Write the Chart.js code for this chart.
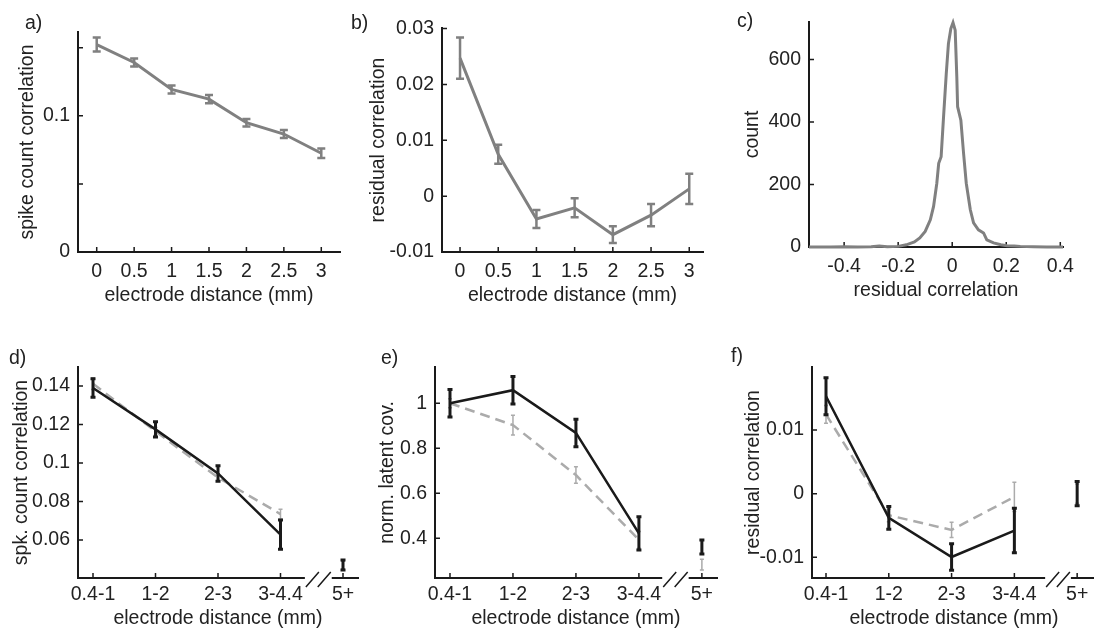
<!DOCTYPE html>
<html>
<head>
<meta charset="utf-8">
<script src="https://cdn.jsdelivr.net/npm/chart.js@4.4.1/dist/chart.umd.min.js"></script>
<style>
  html, body { margin: 0; padding: 0; background: #fff; overflow: hidden; }
  #page { position: relative; width: 1094px; height: 630px; overflow: hidden; }
  canvas { position: absolute; }
  .tag { position: absolute; font: 19.5px "Liberation Sans", Arial, sans-serif; color: #222; line-height: 22px; }
</style>
</head>
<body>
<div id="page">
  <canvas id="pa"></canvas>
  <canvas id="pb"></canvas>
  <canvas id="pc"></canvas>
  <canvas id="pd"></canvas>
  <canvas id="pe"></canvas>
  <canvas id="pf"></canvas>
  <div class="tag" style="left:25px;top:11px">a)</div>
  <div class="tag" style="left:351px;top:11px">b)</div>
  <div class="tag" style="left:737px;top:9px">c)</div>
  <div class="tag" style="left:9px;top:346px">d)</div>
  <div class="tag" style="left:381px;top:346px">e)</div>
  <div class="tag" style="left:731px;top:344px">f)</div>
</div>
<script>
// ---- data ----
const distMM = [0, 0.5, 1, 1.5, 2, 2.5, 3];
const distLabels = ['0', '0.5', '1', '1.5', '2', '2.5', '3'];

// a) spike count correlation vs distance
const spikeCorr = [0.1523, 0.1391, 0.1193, 0.1122, 0.0949, 0.0866, 0.0725];
const spikeCorrErr = [0.0051, 0.003, 0.003, 0.003, 0.0028, 0.003, 0.0035];
const spikeYTicks = [0, 0.05, 0.1, 0.15];
const spikeYLabels = ['0', '', '0.1', ''];

// b) residual correlation vs distance
const residCorr = [0.0247, 0.0075, -0.0041, -0.0021, -0.0069, -0.0034, 0.0013];
const residCorrErr = [0.0037, 0.0017, 0.0016, 0.0017, 0.0015, 0.002, 0.0027];
const residYTicks = [-0.01, 0, 0.01, 0.02, 0.03];
const residYLabels = ['-0.01', '0', '0.01', '0.02', '0.03'];

// c) histogram of residual correlation
const histBins = [-0.53, -0.45, -0.4, -0.35, -0.3, -0.27, -0.24, -0.2, -0.17, -0.14, -0.12, -0.1, -0.081,
  -0.069, -0.057, -0.05, -0.041, -0.032, -0.022, -0.014, -0.005, 0.003, 0.011, 0.017, 0.02, 0.032,
  0.042, 0.052, 0.067, 0.079, 0.097, 0.116, 0.128, 0.153, 0.18, 0.203, 0.23, 0.252, 0.3, 0.35, 0.41];
const histCounts = [0, 0, 1, 0, 1, 3, 1, 2, 7, 16, 29, 50, 87,
  130, 204, 268, 289, 417, 555, 651, 699, 718, 694, 545, 449, 406,
  300, 204, 119, 77, 55, 45, 23, 13, 7, 4, 3, 2, 1, 0, 0];
const histXTicks = [-0.4, -0.2, 0, 0.2, 0.4];
const histXLabels = ['-0.4', '-0.2', '0', '0.2', '0.4'];
const histYTicks = [0, 200, 400, 600];
const histYLabels = ['0', '200', '400', '600'];

// d-f) binned distance categories (last one sits after the axis break)
const binCats = ['0.4-1', '1-2', '2-3', '3-4.4', '5+'];
const binPos = [0, 1, 2, 3, 4];

const spkBlack = [0.139, 0.1175, 0.0946, 0.0628, 0.047];
const spkBlackErr = [0.0048, 0.0039, 0.004, 0.0076, 0.0026];
const spkGray = [0.1412, 0.1165, 0.0925, 0.0735, 0.047];
const spkGrayErr = [0.003, 0.002, 0.002, 0.0025, 0.002];
const spkYTicks = [0.06, 0.08, 0.1, 0.12, 0.14];
const spkYLabels = ['0.06', '0.08', '0.1', '0.12', '0.14'];

const latBlack = [1.0, 1.058, 0.868, 0.422, 0.361];
const latBlackErr = [0.061, 0.061, 0.061, 0.074, 0.031];
const latGray = [1.0, 0.903, 0.681, 0.393, 0.283];
const latGrayErr = [0.02, 0.044, 0.037, 0.037, 0.024];
const latYTicks = [0.4, 0.6, 0.8, 1];
const latYLabels = ['0.4', '0.6', '0.8', '1'];

const resBlack = [0.0153, -0.0038, -0.00995, -0.0058, 0.0];
const resBlackErr = [0.0029, 0.0018, 0.0021, 0.0035, 0.0019];
const resGray = [0.01245, -0.0034, -0.0057, -0.0005, 0.0];
const resGrayErr = [0.0014, 0.001, 0.0012, 0.0023, 0.0015];
const resYTicks = [-0.01, 0, 0.01];
const resYLabels = ['-0.01', '0', '0.01'];

// ---- styling ----
const TXT = '#222';
const AXIS = '#1a1a1a';
const GRAY = '#808080';
const LIGHT = '#ababab';
const BLACK = '#1a1a1a';
const FS = 19.5;
const HALF_LH = FS * 1.2 / 2;

Chart.defaults.font.family = '"Liberation Sans", Arial, Helvetica, sans-serif';
Chart.defaults.font.size = FS;
Chart.defaults.color = TXT;

function pts(xs, ys) {
  return ys.map((y, i) => ({ x: xs[i], y: y }));
}

// error bars drawn right after their own dataset so stacking order is kept
const errorBars = {
  id: 'errorBars',
  afterDatasetDraw(chart, args) {
    const ds = chart.data.datasets[args.index];
    if (!ds.errors) return;
    const { ctx } = chart;
    const x = chart.scales.x, y = chart.scales.y;
    ctx.save();
    ctx.setLineDash([]);
    ctx.strokeStyle = ds.errColor;
    ctx.lineWidth = ds.errWidth;
    ctx.lineCap = 'butt';
    ds.data.forEach((p, j) => {
      const e = ds.errors[j];
      const px = x.getPixelForValue(p.x);
      const y0 = y.getPixelForValue(p.y - e);
      const y1 = y.getPixelForValue(p.y + e);
      ctx.beginPath();
      ctx.moveTo(px, y0); ctx.lineTo(px, y1);
      ctx.moveTo(px - ds.cap, y0); ctx.lineTo(px + ds.cap, y0);
      ctx.moveTo(px - ds.cap, y1); ctx.lineTo(px + ds.cap, y1);
      ctx.stroke();
    });
    ctx.restore();
  }
};

// matlab style ticks pointing into the plot
const inwardTicks = {
  id: 'inwardTicks',
  beforeDatasetsDraw(chart) {
    const { ctx, chartArea: a } = chart;
    const x = chart.scales.x, y = chart.scales.y;
    ctx.save();
    ctx.strokeStyle = AXIS;
    ctx.lineWidth = 1.5;
    ctx.beginPath();
    x.ticks.forEach(t => {
      const px = x.getPixelForValue(t.value);
      ctx.moveTo(px, a.bottom); ctx.lineTo(px, a.bottom - 5);
    });
    y.ticks.forEach(t => {
      const py = y.getPixelForValue(t.value);
      ctx.moveTo(a.left, py); ctx.lineTo(a.left + 5, py);
    });
    ctx.stroke();
    ctx.restore();
  }
};

// "//" break on the x axis
const axisBreak = {
  id: 'axisBreak',
  afterDraw(chart, args, opts) {
    if (opts.from === undefined) return;
    const { ctx, chartArea: a } = chart;
    const x = chart.scales.x;
    const x0 = x.getPixelForValue(opts.from);
    const x1 = x.getPixelForValue(opts.to);
    const yb = a.bottom;
    ctx.save();
    ctx.fillStyle = '#fff';
    ctx.fillRect(x0, yb - 3, x1 - x0, 6);
    ctx.strokeStyle = AXIS;
    ctx.lineWidth = 1.5;
    ctx.beginPath();
    ctx.moveTo(x0 + 1, yb + 9); ctx.lineTo(x0 + 14, yb - 6);
    ctx.moveTo(x1 - 14, yb + 9); ctx.lineTo(x1 - 1, yb - 6);
    ctx.stroke();
    ctx.restore();
  }
};

function makePanel(id, box, xc, yc, datasets, brk) {
  const L = box.yTitleX - 15, T = box.top - 26, R = box.right + 25, B = box.xTitleY + 15;
  const cv = document.getElementById(id);
  cv.width = R - L;
  cv.height = B - T;
  cv.style.left = L + 'px';
  cv.style.top = T + 'px';
  const yW = box.left - L;
  const xH = B - box.bottom;
  return new Chart(cv, {
    type: 'line',
    data: { datasets: datasets },
    options: {
      responsive: false,
      animation: false,
      events: [],
      layout: { padding: { left: 0, top: 26, right: 25, bottom: 0 } },
      plugins: {
        legend: { display: false },
        tooltip: { enabled: false },
        axisBreak: brk || {}
      },
      scales: {
        x: {
          type: 'linear', position: 'bottom', min: xc.min, max: xc.max,
          afterBuildTicks: s => { s.ticks = xc.ticks.map(v => ({ value: v })); },
          afterFit: s => { s.height = xH; },
          grid: { display: false, drawTicks: false, tickLength: 0 },
          border: { display: true, color: AXIS, width: 2 },
          ticks: { autoSkip: false, maxRotation: 0, minRotation: 0, padding: xc.gap - HALF_LH, color: TXT,
                   callback: (v, i) => xc.labels[i] },
          title: { display: true, text: xc.title, color: TXT, padding: { top: 0, bottom: 15 - HALF_LH } }
        },
        y: {
          type: 'linear', position: 'left', min: yc.min, max: yc.max,
          afterBuildTicks: s => { s.ticks = yc.ticks.map(v => ({ value: v })); },
          afterFit: s => { s.width = yW; },
          grid: { display: false, drawTicks: false, tickLength: 0 },
          border: { display: true, color: AXIS, width: 2 },
          ticks: { autoSkip: false, padding: 8, color: TXT, callback: (v, i) => yc.labels[i] },
          title: { display: true, text: yc.title, color: TXT, padding: { top: 15 - HALF_LH, bottom: 0 } }
        }
      }
    },
    plugins: [inwardTicks, errorBars, axisBreak]
  });
}

function lineSet(xs, ys, errs, color, width, dash, errWidth, cap, errColor) {
  return {
    data: pts(xs, ys), errors: errs, borderColor: color, borderWidth: width,
    borderDash: dash, pointRadius: 0, tension: 0, fill: false, clip: false,
    errColor: errColor || color, errWidth: errWidth, cap: cap
  };
}
function lonePoint(xs, ys, errs, color, errWidth, cap) {
  return {
    data: pts(xs, ys), errors: errs, borderColor: color, showLine: false,
    pointRadius: 0, clip: false, errColor: color, errWidth: errWidth, cap: cap
  };
}

const distTitle = 'electrode distance (mm)';
const main = binPos.slice(0, 4);
const tail = binPos.slice(4);

// a)
makePanel('pa', { left: 78, top: 32, right: 340, bottom: 252, yTitleX: 28, xTitleY: 296 },
  { min: -0.25, max: 3.25, ticks: distMM, labels: distLabels, gap: 20, title: distTitle },
  { min: 0, max: 0.1615, ticks: spikeYTicks, labels: spikeYLabels, title: 'spike count correlation' },
  [lineSet(distMM, spikeCorr, spikeCorrErr, GRAY, 3, [], 2.5, 4)]);

// b)
makePanel('pb', { left: 442, top: 28, right: 703, bottom: 252, yTitleX: 379, xTitleY: 296 },
  { min: -0.236, max: 3.18, ticks: distMM, labels: distLabels, gap: 20, title: distTitle },
  { min: -0.01, max: 0.0301, ticks: residYTicks, labels: residYLabels, title: 'residual correlation' },
  [lineSet(distMM, residCorr, residCorrErr, GRAY, 3, [], 2.5, 4)]);

// c)
makePanel('pc', { left: 809, top: 22, right: 1063, bottom: 247, yTitleX: 753, xTitleY: 291 },
  { min: -0.53, max: 0.41, ticks: histXTicks, labels: histXLabels, gap: 20, title: 'residual correlation' },
  { min: 0, max: 720, ticks: histYTicks, labels: histYLabels, title: 'count' },
  [lineSet(histBins, histCounts, null, GRAY, 3, [], 0, 0)]);

// d)
makePanel('pd', { left: 78, top: 367, right: 358, bottom: 578, yTitleX: 22, xTitleY: 619 },
  { min: -0.24, max: 4.24, ticks: binPos, labels: binCats, gap: 17, title: distTitle },
  { min: 0.0403, max: 0.1499, ticks: spkYTicks, labels: spkYLabels, title: 'spk. count correlation' },
  [lineSet(main, spkBlack.slice(0, 4), spkBlackErr.slice(0, 4), BLACK, 2.5, [], 3, 2.5),
   lonePoint(tail, spkBlack.slice(4), spkBlackErr.slice(4), BLACK, 3, 2.5),
   lineSet(main, spkGray.slice(0, 4), spkGrayErr.slice(0, 4), LIGHT, 2.5, [10, 6], 1.5, 2),
   lonePoint(tail, spkGray.slice(4), spkGrayErr.slice(4), LIGHT, 1.5, 2)],
  { from: 3.39, to: 3.82 });

// e)
makePanel('pe', { left: 435, top: 367, right: 717, bottom: 578, yTitleX: 388, xTitleY: 619 },
  { min: -0.238, max: 4.24, ticks: binPos, labels: binCats, gap: 17, title: distTitle },
  { min: 0.2236, max: 1.161, ticks: latYTicks, labels: latYLabels, title: 'norm. latent cov.' },
  [lineSet(main, latBlack.slice(0, 4), latBlackErr.slice(0, 4), BLACK, 2.5, [], 3, 2.5),
   lonePoint(tail, latBlack.slice(4), latBlackErr.slice(4), BLACK, 3, 2.5),
   lineSet(main, latGray.slice(0, 4), latGrayErr.slice(0, 4), LIGHT, 2.5, [10, 6], 1.5, 2),
   lonePoint(tail, latGray.slice(4), latGrayErr.slice(4), LIGHT, 1.5, 2)],
  { from: 3.37, to: 3.79 });

// f)
makePanel('pf', { left: 812, top: 367, right: 1096, bottom: 578, yTitleX: 754, xTitleY: 619 },
  { min: -0.223, max: 4.3, ticks: binPos, labels: binCats, gap: 17, title: distTitle },
  { min: -0.01325, max: 0.0199, ticks: resYTicks, labels: resYLabels, title: 'residual correlation' },
  [lineSet(main, resBlack.slice(0, 4), resBlackErr.slice(0, 4), BLACK, 2.5, [], 3, 2.5),
   lonePoint(tail, resBlack.slice(4), resBlackErr.slice(4), BLACK, 3, 2.5),
   lineSet(main, resGray.slice(0, 4), resGrayErr.slice(0, 4), LIGHT, 2.5, [10, 6], 1.5, 2),
   lonePoint(tail, resGray.slice(4), resGrayErr.slice(4), LIGHT, 1.5, 2)],
  { from: 3.49, to: 3.9 });
</script>
</body>
</html>
